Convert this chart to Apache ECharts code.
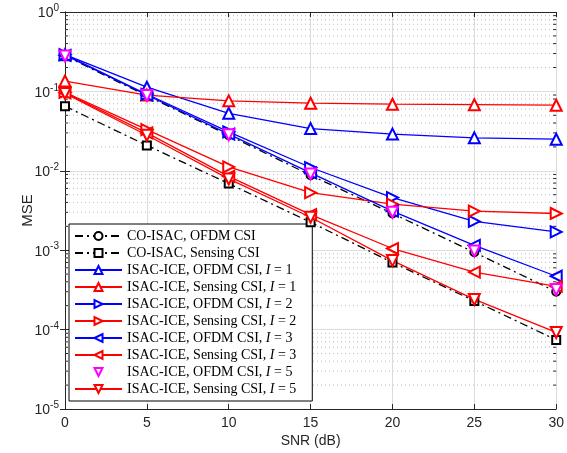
<!DOCTYPE html>
<html><head><meta charset="utf-8">
<script src="https://cdn.jsdelivr.net/npm/echarts@6/dist/echarts.min.js"></script>
<style>html,body{margin:0;padding:0;background:#fff}#c{width:567px;height:453px}</style>
</head><body><div id="c"></div>
<script>
var snr = [0, 5, 10, 15, 20, 25, 30];
var xTicks = [0, 5, 10, 15, 20, 25, 30];
var coOfdm = [0.28, 0.088, 0.028, 0.0088, 0.0029, 0.00094, 0.00030];
var coSens = [0.065, 0.0209, 0.0069, 0.00225, 0.00070, 0.00023, 0.000074];
var ofdmI1 = [0.29, 0.113, 0.053, 0.034, 0.029, 0.026, 0.025];
var sensI1 = [0.135, 0.09, 0.076, 0.071, 0.069, 0.068, 0.067];
var ofdmI2 = [0.29, 0.092, 0.031, 0.011, 0.0046, 0.0023, 0.0017];
var sensI2 = [0.097, 0.033, 0.0112, 0.0053, 0.0038, 0.0031, 0.0029];
var ofdmI3 = [0.285, 0.09, 0.029, 0.0094, 0.0031, 0.00115, 0.00047];
var sensI3 = [0.096, 0.030, 0.0085, 0.0028, 0.00105, 0.00053, 0.00035];
var ofdmI5 = [0.28, 0.089, 0.0285, 0.0091, 0.0030, 0.00098, 0.00032];
var sensI5 = [0.094, 0.028, 0.0079, 0.0026, 0.00074, 0.00024, 0.000092];
var names = [
  'CO-ISAC, OFDM CSI', 'CO-ISAC, Sensing CSI',
  'ISAC-ICE, OFDM CSI, I = 1', 'ISAC-ICE, Sensing CSI, I = 1',
  'ISAC-ICE, OFDM CSI, I = 2', 'ISAC-ICE, Sensing CSI, I = 2',
  'ISAC-ICE, OFDM CSI, I = 3', 'ISAC-ICE, Sensing CSI, I = 3',
  'ISAC-ICE, OFDM CSI, I = 5', 'ISAC-ICE, Sensing CSI, I = 5'
];
// minor grid positions (2..9 x 10^k)
var minorVals = [];
for (var e = -5; e < 0; e++) for (var k = 2; k <= 9; k++) minorVals.push(+(k * Math.pow(10, e)).toPrecision(3));

function pairs(arr) { return snr.map(function (x, i) { return [x, arr[i]]; }); }

var BLUE = '#0000ff', RED = '#ff0000', MAG = '#ff00ff', BLK = '#000000';
var dashDot = [8, 4, 2, 4];

function ser(name, data, color, symbol, rot, size, dash, noLine) {
  return {
    name: name, type: 'line', data: pairs(data),
    symbol: symbol, symbolSize: size, symbolRotate: rot,
    showAllSymbol: true, z: 5,
    lineStyle: { color: color, width: 1.3, type: dash || 'solid', opacity: noLine ? 0 : 1 },
    itemStyle: { color: color, borderColor: color, borderWidth: 1.3 },
    emphasis: { disabled: true }, animation: false
  };
}

var series = [
  ser(names[0], coOfdm, BLK, 'emptyCircle', 0, 8, dashDot),
  ser(names[1], coSens, BLK, 'emptyRect', 0, 8, dashDot),
  ser(names[2], ofdmI1, BLUE, 'emptyTriangle', 0, 11),
  ser(names[3], sensI1, RED, 'emptyTriangle', 0, 11),
  ser(names[4], ofdmI2, BLUE, 'emptyTriangle', -90, 11),
  ser(names[5], sensI2, RED, 'emptyTriangle', -90, 11),
  ser(names[6], ofdmI3, BLUE, 'emptyTriangle', 90, 11),
  ser(names[7], sensI3, RED, 'emptyTriangle', 90, 11),
  ser(names[8], ofdmI5, MAG, 'emptyTriangle', 180, 11, null, true),
  ser(names[9], sensI5, RED, 'emptyTriangle', 180, 11)
];

series.unshift({
  type: 'custom', name: 'minor', silent: true, z: 1, animation: false,
  xAxisIndex: 0, yAxisIndex: 0,
  data: minorVals.map(function (v) { return [0, v]; }),
  renderItem: function (params, api) {
    var v = api.value(1);
    var p0 = api.coord([0, v]);
    var p1 = api.coord([30, v]);
    return {
      type: 'group', children: [
        { type: 'line', shape: { x1: p0[0], y1: p0[1], x2: p1[0], y2: p1[1] },
          style: { stroke: '#bdbdbd', lineWidth: 1, lineDash: [1, 3] } },
        { type: 'line', shape: { x1: p0[0], y1: p0[1], x2: p0[0] + 3, y2: p0[1] },
          style: { stroke: '#262626', lineWidth: 1 } },
        { type: 'line', shape: { x1: p1[0], y1: p1[1], x2: p1[0] - 3, y2: p1[1] },
          style: { stroke: '#262626', lineWidth: 1 } }
      ]
    };
  }
});

var axisCol = '#262626';
var chart = echarts.init(document.getElementById('c'), null, { renderer: 'canvas' });
chart.setOption({
  backgroundColor: '#fff',
  animation: false,
  grid: { left: 65, right: 10, top: 12, bottom: 44 },
  xAxis: [{
    type: 'value', min: 0, max: 30, interval: 5, position: 'bottom',
    name: 'SNR (dB)', nameLocation: 'middle', nameGap: 25, nameMoveOverlap: false,
    nameTextStyle: { fontFamily: 'Liberation Sans', fontSize: 14, color: axisCol },
    axisLine: { show: true, lineStyle: { color: axisCol, width: 1 } },
    axisTick: { show: true, inside: true, length: 5, lineStyle: { color: axisCol } },
    axisLabel: { fontFamily: 'Liberation Sans', fontSize: 14, color: axisCol, margin: 7,
      formatter: function (v) { return xTicks.indexOf(v) >= 0 ? String(v) : ''; } },
    splitLine: { show: true, lineStyle: { color: '#dcdcdc', width: 1 } }
  }, {
    type: 'value', min: 0, max: 30, interval: 5, position: 'top',
    axisLine: { show: true, lineStyle: { color: axisCol, width: 1 } },
    axisTick: { show: true, inside: true, length: 5, lineStyle: { color: axisCol } },
    axisLabel: { show: false }, splitLine: { show: false }
  }],
  yAxis: [{
    type: 'log', min: 1e-5, max: 1, logBase: 10, position: 'left',
    name: 'MSE', nameLocation: 'middle', nameGap: 30, nameRotate: 90, nameMoveOverlap: false,
    nameTextStyle: { fontFamily: 'Liberation Sans', fontSize: 15, color: axisCol },
    axisLine: { show: true, lineStyle: { color: axisCol, width: 1 } },
    axisTick: { show: true, inside: true, length: 5, lineStyle: { color: axisCol } },
    axisLabel: {
      margin: 6,
      formatter: function (v) {
        var ex = Math.round(Math.log10(v));
        return '{b|10}{s|' + ex + '}';
      },
      rich: {
        b: { fontFamily: 'Liberation Sans', fontSize: 14, color: axisCol, verticalAlign: 'bottom' },
        s: { fontFamily: 'Liberation Sans', fontSize: 10, color: axisCol, verticalAlign: 'bottom', padding: [0, 0, 7, 0] }
      }
    },
    splitLine: { show: true, lineStyle: { color: '#dcdcdc', width: 1 } }
  }, {
    type: 'log', min: 1e-5, max: 1, logBase: 10, position: 'right',
    axisLine: { show: true, lineStyle: { color: axisCol, width: 1 } },
    axisTick: { show: true, inside: true, length: 5, lineStyle: { color: axisCol } },
    axisLabel: { show: false }, splitLine: { show: false }
  }],
  legend: {
    data: names, orient: 'vertical', left: 69, top: 224,
    backgroundColor: '#fff', borderColor: '#000', borderWidth: 1,
    padding: [4, 16, 4, 5], itemGap: 1, itemWidth: 47, itemHeight: 10,
    selectedMode: false,
    formatter: function (n) { return n.replace(/I = (\d)/, '{i|I} = $1'); },
    textStyle: {
      fontFamily: 'Liberation Serif', fontSize: 14, lineHeight: 16, color: '#000',
      rich: { i: { fontFamily: 'Liberation Serif', fontStyle: 'italic', fontSize: 14, lineHeight: 16, color: '#000' } }
    }
  },
  series: series
});
</script></body></html>
